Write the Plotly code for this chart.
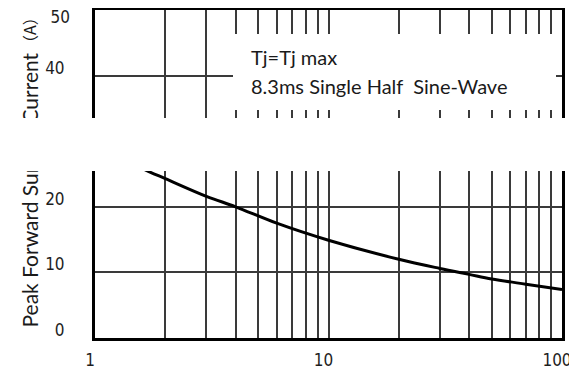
import plotly.graph_objects as go

# Curve: peak forward surge current vs number of cycles at 60 Hz
cycles = [1, 1.5, 1.72, 2, 3, 4, 6, 10, 20, 30, 40, 50, 70, 100]
current = [30.0, 26.3, 25.3, 24.3, 21.6, 20.0, 17.5, 14.9, 12.0, 10.6, 9.7, 9.0, 8.2, 7.4]

x_tickvals = [1, 2, 3, 4, 5, 6, 7, 8, 9, 10, 20, 30, 40, 50, 60, 70, 80, 90, 100]
x_ticktext = ["1", "", "", "", "", "", "", "", "", "10", "", "", "", "", "", "", "", "", "100"]
y_tickvals = [0, 10, 20, 30, 40]
y_ticktext = ["0", "10", "20", "30", "40"]
y_top_tickvals = [50]
y_top_ticktext = ["50"]

title_part1 = "Peak Forward Surge"
title_part2 = "Current"
title_unit = "（A）"
note_line1 = "Tj=Tj max"
note_line2 = "8.3ms Single Half  Sine-Wave"

# the page body has an 8px margin; work in page pixels and convert
OFF = 8
PAGE_W, PAGE_H = 577, 372
W, H = PAGE_W - OFF, PAGE_H - OFF
ML, MR, MT, MB = 95 - OFF, 15, 10 - OFF, 34
PW, PH = W - ML - MR, H - MT - MB

def px(xp):
    return (xp - OFF - ML) / PW

def py(yp):
    return (H - MB - (yp - OFF)) / PH

fig = go.Figure()
fig.add_trace(go.Scatter(x=cycles, y=current, mode="lines",
                         line=dict(color="black", width=3, shape="spline"),
                         showlegend=False, hoverinfo="skip"))
# same series bound to the helper axis (invisible) so that axis is drawn
fig.add_trace(go.Scatter(x=cycles, y=current, mode="lines", yaxis="y2",
                         line=dict(color="rgba(0,0,0,0)", width=0),
                         showlegend=False, hoverinfo="skip"))

tickfont = dict(family="DejaVu Sans Condensed, DejaVu Sans", size=17, color="#1e1e1e")
fig.update_layout(
    xaxis=dict(type="log", range=[0, 2], tickvals=x_tickvals, ticktext=x_ticktext,
               showgrid=True, gridcolor="#3a3a3a", gridwidth=1.6,
               showline=True, linecolor="black", linewidth=3, mirror=True,
               ticks="", tickfont=tickfont, ticklabelstandoff=5, ticklabelshift=-5,
               ticklabeloverflow="allow", zeroline=False, automargin=False),
    yaxis=dict(range=[0, 50], tickvals=y_tickvals, ticktext=y_ticktext,
               showgrid=True, gridcolor="#3a3a3a", gridwidth=1.6,
               showline=True, linecolor="black", linewidth=3, mirror=True,
               ticks="", tickfont=tickfont, ticklabelstandoff=24, ticklabelshift=-8,
               ticklabeloverflow="allow", zeroline=False, automargin=False),
    yaxis2=dict(range=[0, 50], overlaying="y", side="left", anchor="x",
                tickvals=y_top_tickvals, ticktext=y_top_ticktext,
                showgrid=False, showline=False, zeroline=False,
                ticks="", tickfont=tickfont, ticklabelstandoff=24, ticklabelshift=7,
                ticklabeloverflow="allow", automargin=False),
)

# white box behind the note text
fig.add_shape(type="rect", xref="paper", yref="paper",
              x0=px(233), x1=px(556), y0=py(110), y1=py(34),
              fillcolor="white", line=dict(width=0), layer="above")

notefont = dict(family="Lato", size=20, color="#1a1a1a")
fig.add_annotation(text=note_line1, xref="paper", yref="paper", x=px(249), y=py(57),
                   xanchor="left", yanchor="middle", showarrow=False, font=notefont)
fig.add_annotation(text=note_line2, xref="paper", yref="paper", x=px(249), y=py(86),
                   xanchor="left", yanchor="middle", showarrow=False, font=notefont)

# axis title (rotated), written in pieces
titlefont = dict(family="Lato", size=21, color="#1a1a1a")
fig.add_annotation(text=title_part1, xref="paper", yref="paper", x=px(29), y=py(330),
                   xanchor="center", yanchor="bottom", textangle=-90, showarrow=False,
                   font=titlefont)
fig.add_annotation(text=title_part2, xref="paper", yref="paper", x=px(29), y=py(51),
                   xanchor="center", yanchor="top", textangle=-90, showarrow=False,
                   font=titlefont)
fig.add_annotation(text=title_unit, xref="paper", yref="paper", x=px(29), y=py(30),
                   xanchor="center", yanchor="middle", textangle=-90, showarrow=False,
                   font=dict(family="Noto Sans CJK SC", size=16, color="#1a1a1a"))

# horizontal white band across the whole picture
fig.add_annotation(text=" ", xref="paper", yref="paper", x=px(PAGE_W / 2), y=py(144.5),
                   xanchor="center", yanchor="middle", showarrow=False,
                   width=PAGE_W + 20, height=53, bgcolor="white", borderpad=0, borderwidth=0)

fig.update_layout(width=W, height=H, margin=dict(l=ML, r=MR, t=MT, b=MB, autoexpand=False),
                  plot_bgcolor="white", paper_bgcolor="white")
fig.write_html("out.html")
